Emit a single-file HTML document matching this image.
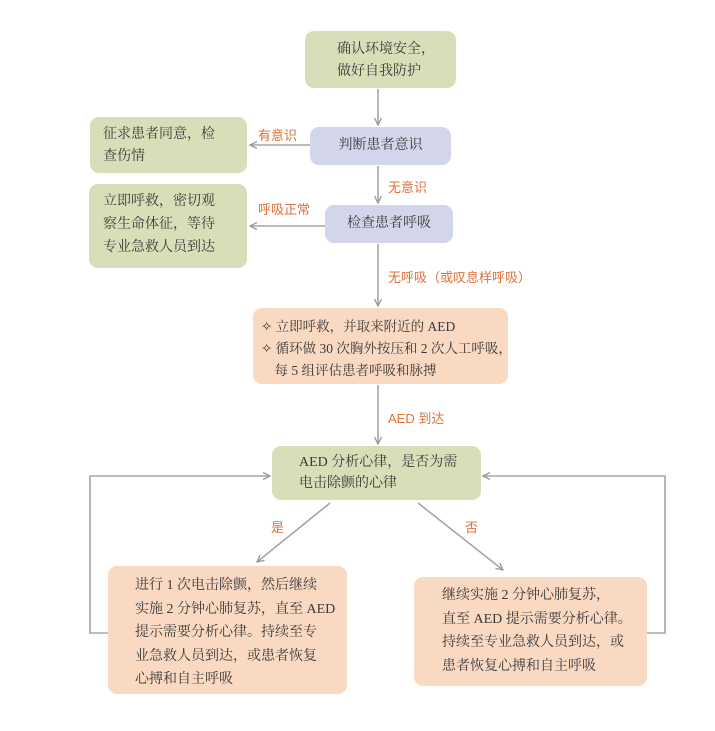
<!DOCTYPE html>
<html><head><meta charset="utf-8"><style>
body{margin:0;background:#fff;width:715px;height:731px;position:relative;overflow:hidden;font-family:"Liberation Serif","Noto Serif CJK SC",serif;color:#3a3a3a}
.b{position:absolute;border-radius:9px;font-size:14px;box-sizing:border-box;white-space:nowrap}
.g{background:#d7dfb9}.p{background:#d3d6ea}.o{background:#fad9c2}
.l{position:absolute;color:#e0703a;font-size:13px;font-family:"Liberation Sans","Noto Sans CJK SC",sans-serif}
svg{position:absolute;left:0;top:0}
</style></head><body>
<svg width="715" height="731"><defs><marker id="a" markerWidth="8" markerHeight="8" refX="7" refY="4" orient="auto" markerUnits="userSpaceOnUse"><path d="M0,0.5 L7,4 L0,7.5" fill="none" stroke="#999" stroke-width="1.3"/></marker></defs>
<g stroke="#a5a5a5" stroke-width="1.6" fill="none">
<line x1="378" y1="89" x2="378" y2="125" marker-end="url(#a)"/>
<line x1="378" y1="166" x2="378" y2="203" marker-end="url(#a)"/>
<line x1="378" y1="244" x2="378" y2="306" marker-end="url(#a)"/>
<line x1="378" y1="385" x2="378" y2="444" marker-end="url(#a)"/>
<line x1="310" y1="145" x2="250" y2="145" marker-end="url(#a)"/>
<line x1="325" y1="226" x2="250" y2="226" marker-end="url(#a)"/>
<line x1="330" y1="503" x2="257" y2="562" marker-end="url(#a)"/>
<line x1="418" y1="503" x2="503" y2="570" marker-end="url(#a)"/>
<polyline points="108,633 90,633 90,476 270,476" marker-end="url(#a)"/>
<polyline points="647,633 665,633 665,476 483,476" marker-end="url(#a)"/>
</g></svg>
<div class="b g" style="left:305px;top:31px;width:151px;height:57px;padding:8px 0 0 32px;line-height:22px">确认环境安全，<br>做好自我防护</div>
<div class="b p" style="left:310px;top:127px;width:141px;height:38px;line-height:38px;text-align:center">判断患者意识</div>
<div class="b g" style="left:90px;top:117px;width:157px;height:56px;padding:7px 0 0 13px;line-height:22px">征求患者同意，检<br>查伤情</div>
<div class="b p" style="left:325px;top:205px;width:128px;height:38px;line-height:38px;text-align:center">检查患者呼吸</div>
<div class="b g" style="left:89px;top:184px;width:158px;height:84px;padding:6px 0 0 14px;line-height:23px">立即呼救，密切观<br>察生命体征，等待<br>专业急救人员到达</div>
<div class="b o" style="left:253px;top:308px;width:255px;height:76px;padding:8px 0 0 8px;line-height:22px;font-size:13.5px">✧ 立即呼救，并取来附近的 AED<br>✧ 循环做 30 次胸外按压和 2 次人工呼吸，<br>&nbsp;&nbsp;&nbsp;&nbsp;每 5 组评估患者呼吸和脉搏</div>
<div class="b g" style="left:272px;top:446px;width:209px;height:54px;padding:6px 0 0 27px;line-height:21px">AED 分析心律，是否为需<br>电击除颤的心律</div>
<div class="b o" style="left:108px;top:566px;width:239px;height:128px;padding:8px 0 0 27px;line-height:23.5px">进行 1 次电击除颤，然后继续<br>实施 2 分钟心肺复苏，直至 AED<br>提示需要分析心律。持续至专<br>业急救人员到达，或患者恢复<br>心搏和自主呼吸</div>
<div class="b o" style="left:414px;top:577px;width:233px;height:109px;padding:7px 0 0 28px;line-height:23.5px">继续实施 2 分钟心肺复苏，<br>直至 AED 提示需要分析心律。<br>持续至专业急救人员到达，或<br>患者恢复心搏和自主呼吸</div>
<div class="l" style="left:258px;top:125px">有意识</div>
<div class="l" style="left:388px;top:177px">无意识</div>
<div class="l" style="left:258px;top:199px">呼吸正常</div>
<div class="l" style="left:388px;top:267px">无呼吸（或叹息样呼吸）</div>
<div class="l" style="left:388px;top:408px">AED 到达</div>
<div class="l" style="left:271px;top:517px">是</div>
<div class="l" style="left:465px;top:517px">否</div>
</body></html>
